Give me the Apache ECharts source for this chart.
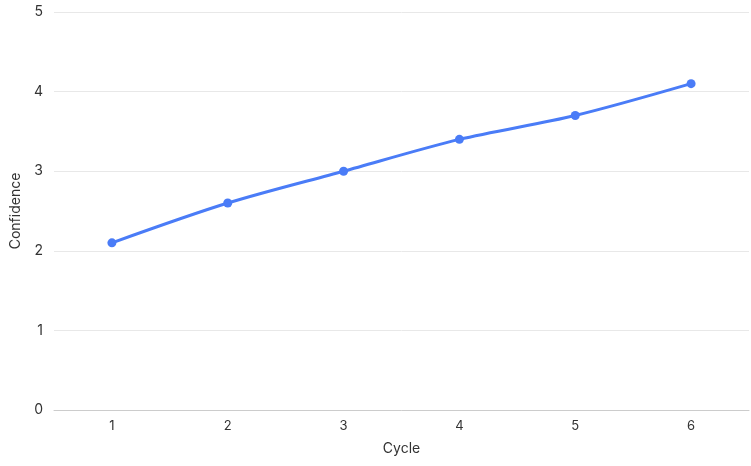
<!DOCTYPE html>
<html><head><meta charset="utf-8">
<script src="https://cdn.jsdelivr.net/npm/echarts@6/dist/echarts.min.js"></script>
<style>html,body{margin:0;padding:0;background:#fff}#c{width:751px;height:466px}</style>
</head><body><div id="c"></div>
<script>
var categories = ['1','2','3','4','5','6'];
var confidence = [2.1, 2.6, 3.0, 3.4, 3.7, 4.1];
var chart = echarts.init(document.getElementById('c'));
chart.setOption({
  animation: false,
  textStyle: {fontFamily: 'Inter'},
  grid: {left: 54, right: 2, top: 12, bottom: 56, outerBoundsMode: 'none', containLabel: false},
  xAxis: {
    type: 'category', data: categories, boundaryGap: true,
    name: 'Cycle', nameLocation: 'middle', nameGap: 32,
    nameTextStyle: {color: '#333', fontSize: 14, fontFamily: 'Inter'},
    axisLine: {lineStyle: {color: '#ccc'}},
    axisTick: {show: false},
    axisLabel: {color: '#333', fontSize: 13, margin: 10}
  },
  yAxis: {
    type: 'value', min: 0, max: 5, interval: 1,
    name: 'Confidence', nameLocation: 'middle', nameGap: 31,
    nameTextStyle: {color: '#333', fontSize: 14, fontFamily: 'Inter'},
    axisLine: {show: false}, axisTick: {show: false},
    axisLabel: {color: '#333', fontSize: 14, margin: 11},
    splitLine: {lineStyle: {color: '#e8e8e8'}}
  },
  series: [{
    type: 'line', data: confidence, smooth: 0.3,
    symbol: 'circle', symbolSize: 9,
    lineStyle: {color: '#4a7cf7', width: 3},
    itemStyle: {color: '#4a7cf7'}
  }]
});
</script></body></html>
